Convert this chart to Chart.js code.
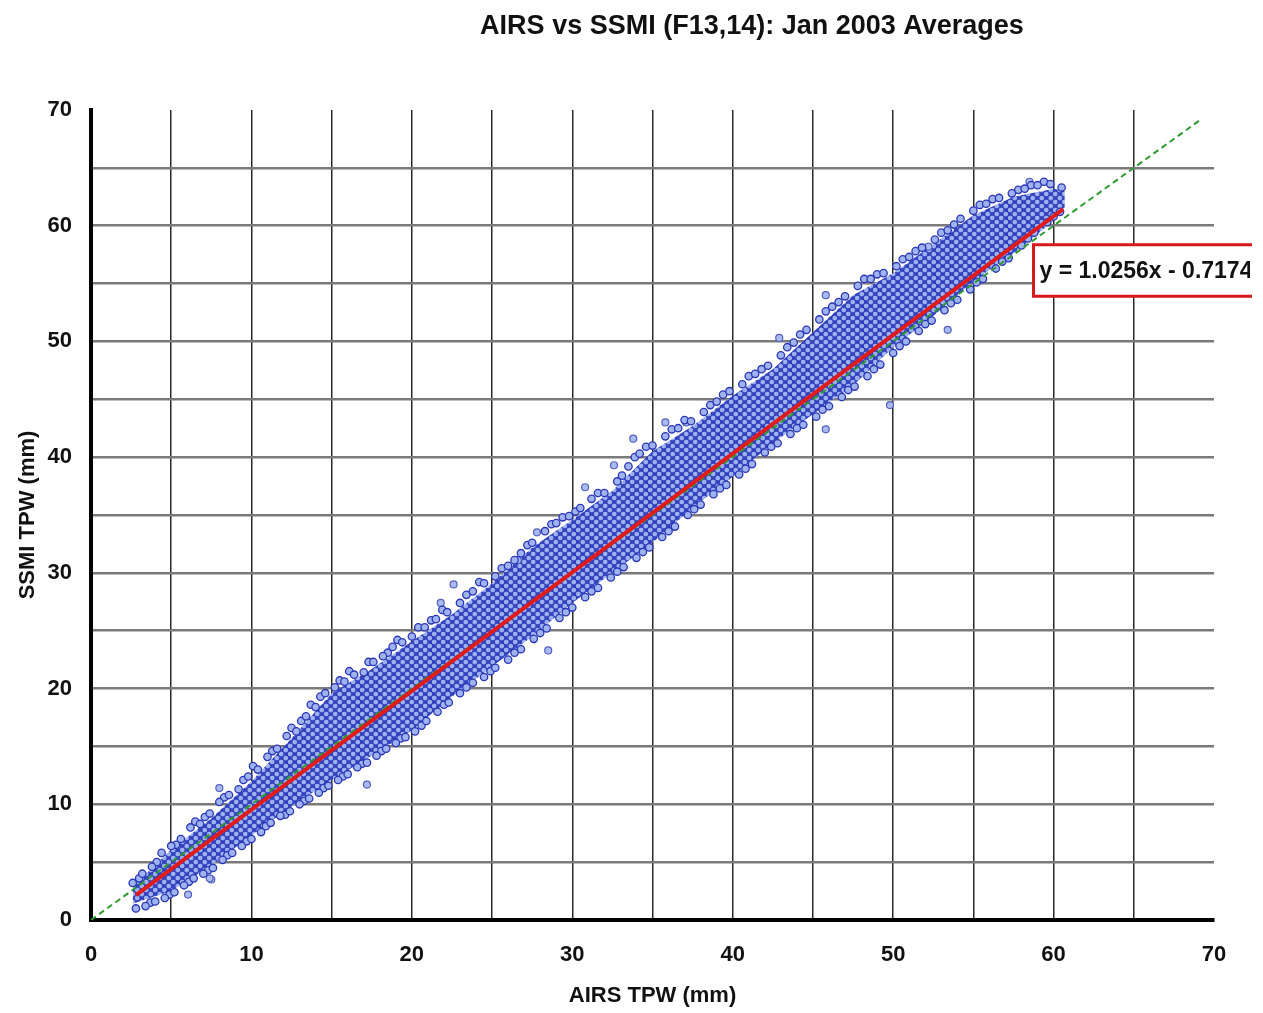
<!DOCTYPE html>
<html>
<head>
<meta charset="utf-8">
<script src="https://cdn.jsdelivr.net/npm/chart.js@4.4.1/dist/chart.umd.min.js"></script>
<style>
html,body{margin:0;padding:0;background:#fff;}
#wrap{width:1263px;height:1013px;position:relative;}
</style>
</head>
<body>
<div id="wrap"><canvas id="c" width="1263" height="1013"></canvas></div>
<script>
// ---- data ----
const chartTitle = "AIRS vs SSMI (F13,14): Jan 2003 Averages";
const xTitle = "AIRS TPW (mm)";
const yTitle = "SSMI TPW (mm)";
const equationText = "y = 1.0256x - 0.7174";

// dense core of the point cloud (upper / lower envelope)
const bandX     = [2.6, 5, 7.5, 10, 12.5, 15, 17.5, 20, 22.5, 25, 27.5, 30, 32.5, 35, 37.5, 40, 42.5, 45, 47.5, 50, 52.5, 55, 57.5, 60, 60.7];
const bandUpper = [2.9, 6.1, 8.8, 12.0, 15.7, 19.6, 21.7, 24.1, 26.4, 29.1, 32.2, 34.6, 37.1, 40.5, 42.7, 45.3, 47.6, 50.8, 54.0, 55.9, 58.4, 60.9, 62.5, 63.2, 63.0];
const bandLower = [1.4, 2.5, 4.7, 7.3, 9.8, 12.1, 14.2, 16.4, 19.3, 21.9, 24.5, 27.4, 30.0, 32.6, 35.6, 38.3, 41.2, 43.7, 46.2, 49.5, 52.2, 55.2, 57.6, 60.4, 61.6];

// individual points along the upper edge of the cloud
const upperEdge = [[2.6,3.2],[3.2,4.0],[3.8,4.6],[4.4,5.8],[5.0,6.4],[5.6,7.0],[6.2,8.0],[6.8,8.3],[7.4,9.2],[8.0,10.2],[8.6,10.8],[9.2,11.3],[9.8,12.4],[10.4,13.0],[11.0,14.1],[11.6,14.8],[12.2,15.9],[12.8,16.3],[13.4,17.6],[14.0,18.4],[14.6,19.6],[15.2,20.1],[15.8,20.6],[16.4,21.2],[17.0,21.4],[17.6,22.3],[18.2,22.8],[18.8,23.6],[19.4,24.0],[20.0,24.5],[20.8,25.3],[21.5,26.0],[22.2,26.6],[23.0,27.4],[23.8,28.4],[24.5,29.1],[25.2,29.7],[26.0,30.6],[26.8,31.7],[27.5,32.6],[28.3,33.6],[29.0,34.3],[29.8,34.9],[30.5,35.6],[31.2,36.4],[32.0,36.9],[32.8,37.9],[33.5,39.2],[34.2,40.3],[35.0,41.0],[35.8,41.8],[36.6,42.5],[37.4,43.1],[38.2,43.9],[39.0,44.8],[39.8,45.7],[40.6,46.3],[41.4,47.2],[42.2,47.9],[43.0,48.8],[43.8,49.9],[44.6,51.0],[45.4,51.9],[46.2,53.0],[47.0,53.9],[47.8,54.8],[48.6,55.4],[49.4,55.9],[50.2,56.5],[51.0,57.3],[51.8,58.1],[52.6,58.8],[53.4,59.6],[54.2,60.6],[55.0,61.3],[55.8,61.9],[56.6,62.4],[57.4,62.8],[58.2,63.2],[59.0,63.5],[59.8,63.6],[60.5,63.3]];
const upperExtra = [[3.0,3.6],[4.1,5.0],[5.3,6.5],[6.5,8.5],[7.1,8.9],[8.3,10.6],[9.5,12.1],[10.1,13.3],[11.3,14.6],[12.5,16.6],[13.1,17.2],[13.7,18.6],[14.3,19.3],[15.5,20.7],[16.1,21.5],[17.3,22.3],[18.5,23.1],[19.1,24.2],[20.4,25.3],[21.2,25.9],[21.9,26.8],[23.4,28.1],[24.2,29.2],[25.6,30.4],[26.4,31.1],[27.2,32.4],[28.7,34.2],[29.4,34.8],[30.2,35.3],[31.6,36.9],[33.1,38.4],[33.9,40.0],[34.6,40.9],[36.2,42.4],[37.0,43.2],[38.6,44.5],[39.4,45.4],[41.0,47.0],[41.8,47.6],[43.4,49.5],[44.2,50.6],[45.8,52.6],[46.6,53.4],[48.2,55.4],[49.0,55.8],[50.6,57.1],[51.4,57.8],[53.0,59.4],[53.8,60.1],[55.4,61.8],[56.2,62.3],[57.8,63.1],[58.6,63.5],[59.4,63.8]];

// individual points along the lower edge of the cloud
const lowerEdge = [[2.8,1.0],[3.4,1.2],[4.0,1.6],[4.6,1.9],[5.2,2.4],[5.8,3.0],[6.4,3.6],[7.0,4.0],[7.6,4.5],[8.2,5.2],[8.8,5.8],[9.4,6.4],[10.0,7.0],[10.6,7.6],[11.2,8.4],[11.8,9.0],[12.4,9.4],[13.0,10.0],[13.6,10.5],[14.2,11.0],[14.8,11.6],[15.4,12.1],[16.0,12.6],[16.6,13.2],[17.2,13.6],[17.8,14.2],[18.4,14.8],[19.0,15.3],[19.6,15.8],[20.2,16.3],[20.9,17.2],[21.6,18.0],[22.3,18.8],[23.0,19.6],[23.8,20.5],[24.5,21.0],[25.2,21.8],[26.0,22.5],[26.8,23.4],[27.6,24.3],[28.4,25.2],[29.2,26.1],[30.0,27.0],[30.8,27.9],[31.6,28.7],[32.4,29.6],[33.2,30.5],[34.0,31.3],[34.8,32.2],[35.6,33.1],[36.4,34.0],[37.2,35.0],[38.0,35.9],[38.8,36.8],[39.6,37.6],[40.4,38.5],[41.2,39.4],[42.0,40.4],[42.8,41.2],[43.6,42.0],[44.4,42.8],[45.2,43.5],[46.0,44.4],[46.8,45.2],[47.6,46.1],[48.4,47.0],[49.2,48.0],[50.0,49.0],[50.8,50.0],[51.6,50.9],[52.4,51.8],[53.2,52.7],[54.0,53.6],[54.8,54.5],[55.6,55.4],[56.4,56.3],[57.2,57.2],[58.0,58.3],[58.8,59.4],[59.6,60.3],[60.4,61.2]];
const lowerExtra = [[3.7,1.5],[4.9,2.2],[6.1,3.3],[7.3,4.3],[8.5,5.6],[9.7,6.8],[10.9,8.1],[12.1,9.1],[13.3,10.3],[14.5,11.4],[15.7,12.4],[16.9,13.5],[18.1,14.6],[19.3,15.7],[20.6,16.8],[22.0,18.6],[23.4,20.1],[24.9,21.5],[26.4,23.1],[28.0,24.8],[29.6,26.6],[31.2,28.4],[32.8,30.1],[34.4,31.8],[36.0,33.6],[37.6,35.5],[39.2,37.3],[40.8,39.0],[42.4,40.9],[44.0,42.5],[45.6,44.1],[47.2,45.8],[48.8,47.6],[50.4,49.6],[52.0,51.5],[53.6,53.3],[55.2,55.1],[56.8,56.9],[58.4,58.9],[60.0,60.8]];

// scattered points away from the core
const outliers = [[6.05,2.2],[7.5,3.5],[7.4,3.6],[17.2,11.7],[8.0,11.4],[35.8,43.0],[33.8,41.6],[32.6,39.3],[30.8,37.4],[27.8,33.5],[26.6,31.1],[22.6,29.0],[21.8,27.4],[28.5,23.3],[37.1,43.0],[45.8,54.0],[42.9,50.3],[45.8,42.4],[49.8,44.5],[53.4,51.0],[52.2,58.2],[58.5,63.8]];

// regression line end points and 1:1 line end points
const trendX = [2.8, 60.6];
const trendY = [2.15, 61.43];
const identityX = [0, 69.2];
const identityY = [0, 69.2];

// axis
const axisMin = 0, axisMax = 70, gridStep = 5, labelStep = 10;

// ---- build ----
function pts(xs, ys){ return xs.map((x,i)=>({x:x, y:ys[i]})); }
function pairs(a){ return a.map(p=>({x:p[0], y:p[1]})); }

function makePattern(){
  const c = document.createElement('canvas');
  c.width = 9; c.height = 8;
  const g = c.getContext('2d');
  g.fillStyle = '#3442bd';
  g.fillRect(0,0,9,8);
  g.fillStyle = '#9cb1f0';
  const centers = [[2.25,2],[6.75,6],[6.75,-2],[-2.25,6],[11.25,6],[2.25,10]];
  centers.forEach(([x,y])=>{ g.beginPath(); g.arc(x,y,2.3,0,Math.PI*2); g.fill(); });
  return g.createPattern(c,'repeat');
}

const FONT = "'Liberation Sans', Arial, sans-serif";

const overlay = {
  id: 'overlay',
  afterDatasetsDraw(chart){
    const ctx = chart.ctx;
    const xs = chart.scales.x, ys = chart.scales.y;
    // equation box
    const left = xs.getPixelForValue(58.75);
    const top = ys.getPixelForValue(58.35);
    const bottom = ys.getPixelForValue(53.9);
    const right = 1252;
    ctx.save();
    ctx.fillStyle = '#fff';
    ctx.fillRect(left, top, right-left, bottom-top);
    ctx.strokeStyle = '#d8191c';
    ctx.lineWidth = 3;
    ctx.beginPath();
    ctx.moveTo(right, top); ctx.lineTo(left, top); ctx.lineTo(left, bottom); ctx.lineTo(right, bottom);
    ctx.stroke();
    ctx.beginPath(); ctx.rect(left, top, right-left-2, bottom-top); ctx.clip();
    ctx.fillStyle = '#111';
    ctx.font = "bold 23px " + FONT;
    ctx.textBaseline = 'middle';
    ctx.textAlign = 'left';
    ctx.fillText(equationText, left + 6, (top+bottom)/2 + 1);
    ctx.restore();
    // title
    ctx.save();
    ctx.fillStyle = '#111';
    ctx.font = "bold 27px " + FONT;
    ctx.textAlign = 'center';
    ctx.textBaseline = 'middle';
    ctx.fillText(chartTitle, 752, 27);
    ctx.restore();
  }
};

const tickFont = {family: FONT, size: 22, weight: 'bold'};
const titleFont = {family: FONT, size: 22, weight: 'bold'};
const ptStyle = { pointRadius:3.7, backgroundColor:'#9fb3f0', borderColor:'#2b36b6', borderWidth:1.3, order:5 };

new Chart(document.getElementById('c'), {
  type: 'scatter',
  data: {
    datasets: [
      { type:'line', label:'band', data: pts(bandX, bandUpper), fill:'+1', backgroundColor: makePattern(), borderWidth:0, pointRadius:0, order:10 },
      { type:'line', label:'band-low', data: pts(bandX, bandLower), fill:false, borderWidth:0, pointRadius:0, order:11 },
      Object.assign({ label:'upper', data: pairs(upperEdge) }, ptStyle),
      Object.assign({ label:'upper2', data: pairs(upperExtra) }, ptStyle),
      Object.assign({ label:'lower', data: pairs(lowerEdge) }, ptStyle),
      Object.assign({ label:'lower2', data: pairs(lowerExtra) }, ptStyle),
      { label:'outliers', data: pairs(outliers), pointRadius:3.5, backgroundColor:'#a9bbf0', borderColor:'#5560c0', borderWidth:1.2, order:5 },
      { type:'line', label:'1:1', data: pts(identityX, identityY), borderColor:'#2f9a2f', borderWidth:2, borderDash:[6,4], pointRadius:0, fill:false, order:2 },
      { type:'line', label:'fit', data: pts(trendX, trendY), borderColor:'#e01b1b', borderWidth:4, pointRadius:0, fill:false, order:1 }
    ]
  },
  options: {
    responsive:false,
    animation:false,
    layout:{ padding:{ top:110, right:49, bottom:0, left:0 } },
    plugins:{ legend:{display:false}, tooltip:{enabled:false}, title:{display:false} },
    scales:{
      x:{
        type:'linear', min:axisMin, max:axisMax,
        afterFit(s){ s.height = 93; },
        border:{ display:true, color:'#000', width:4 },
        grid:{ drawTicks:false, lineWidth:1.5, color:(c)=> (c.tick && c.tick.value===axisMax) ? 'rgba(0,0,0,0)' : '#2a2a2a' },
        ticks:{ stepSize:gridStep, padding:22, color:'#111', font:tickFont, maxRotation:0, autoSkip:false,
                callback:(v)=> (v % labelStep === 0) ? v : '' },
        title:{ display:true, text:xTitle, color:'#111', font:titleFont, padding:{top:0,bottom:4} }
      },
      y:{
        type:'linear', min:axisMin, max:axisMax,
        afterFit(s){ s.width = 91; },
        border:{ display:true, color:'#000', width:4 },
        grid:{ drawTicks:false, lineWidth:2.5, color:(c)=> (c.tick && c.tick.value===axisMax) ? 'rgba(0,0,0,0)' : '#7a7a7a' },
        ticks:{ stepSize:gridStep, padding:19, color:'#111', font:tickFont, autoSkip:false,
                callback:(v)=> (v % labelStep === 0) ? v : '' },
        title:{ display:true, text:yTitle, color:'#111', font:titleFont, padding:{top:15,bottom:0} }
      }
    }
  },
  plugins:[overlay]
});
</script>
</body>
</html>
